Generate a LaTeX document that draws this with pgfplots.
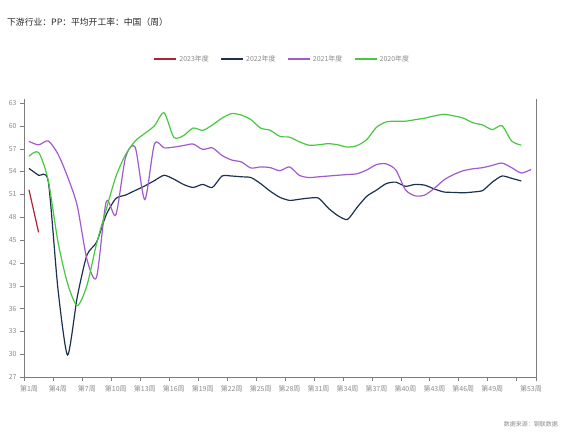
\documentclass[border=0pt]{standalone}
\usepackage{fontspec}
\setmainfont{Noto Sans CJK SC}
\usepackage{pgfplots}
\usepackage{pgfplotstable}
\pgfplotsset{compat=1.18}
\definecolor{c23}{RGB}{178,34,52}
\definecolor{c22}{RGB}{28,48,82}
\definecolor{c21}{RGB}{160,90,205}
\definecolor{c20}{RGB}{72,200,62}
\definecolor{axgray}{RGB}{125,125,125}
\definecolor{txtgray}{RGB}{140,140,140}

\pgfplotstableread{
w v
1 51.6
2 46.0
}\tA

\pgfplotstableread{
w v
1 54.4
2 53.5
3 52.7
4 38.6
5 29.9
6 37.5
7 43.0
8 44.7
9 48.3
10 50.45
11 50.9
12 51.5
13 52.1
14 52.8
15 53.5
16 53.0
17 52.3
18 51.9
19 52.3
20 51.9
21 53.4
22 53.4
23 53.3
24 53.2
25 52.4
26 51.4
27 50.6
28 50.2
29 50.35
30 50.5
31 50.5
32 49.2
33 48.2
34 47.7
35 49.3
36 50.75
37 51.55
38 52.4
39 52.6
40 52.05
41 52.3
42 52.2
43 51.7
44 51.3
45 51.25
46 51.2
47 51.3
48 51.5
49 52.6
50 53.4
51 53.1
52 52.75
}\tB

\pgfplotstableread{
w v
1 57.95
2 57.5
3 58.0
4 56.3
5 53.3
6 49.5
7 42.5
8 40.1
9 50.0
10 48.3
11 55.8
12 57.2
13 50.3
14 57.6
15 57.1
16 57.2
17 57.4
18 57.6
19 56.9
20 57.1
21 56.1
22 55.5
23 55.25
24 54.45
25 54.6
26 54.5
27 54.1
28 54.6
29 53.5
30 53.2
31 53.3
32 53.4
33 53.5
34 53.6
35 53.7
36 54.2
37 54.9
38 55.0
39 54.2
40 51.6
41 50.8
42 50.9
43 51.8
44 52.9
45 53.6
46 54.1
47 54.35
48 54.5
49 54.8
50 55.1
51 54.5
52 53.8
53 54.25
}\tC

\pgfplotstableread{
w v
1 56.0
2 56.5
3 52.8
4 44.8
5 39.3
6 36.4
7 39.0
8 44.5
9 49.0
10 53.3
11 56.2
12 58.0
13 59.0
14 60.0
15 61.7
16 58.5
17 58.7
18 59.7
19 59.4
20 60.1
21 61.0
22 61.6
23 61.4
24 60.8
25 59.7
26 59.4
27 58.6
28 58.5
29 57.9
30 57.45
31 57.5
32 57.65
33 57.5
34 57.2
35 57.4
36 58.2
37 59.8
38 60.5
39 60.6
40 60.6
41 60.8
42 61.0
43 61.3
44 61.5
45 61.3
46 61.0
47 60.4
48 60.1
49 59.5
50 60.0
51 58.0
52 57.45
}\tD

\begin{document}
\begin{tikzpicture}[x=1pt,y=1pt]
\path[use as bounding box] (0,0) rectangle (565,435);
\node[anchor=west, inner sep=0pt, font=\fontsize{8.8}{10}\selectfont, text=black!85] at (7,413) {下游行业：PP：平均开工率：中国（周）};
\node[anchor=east, inner sep=0pt, font=\fontsize{6}{7}\selectfont, text=txtgray] at (558,11) {数据来源：钢联数据};
\begin{axis}[
  at={(25,76)}, anchor=south west,
  scale only axis, width=512pt, height=278pt,
  xmin=0.5, xmax=53.54, ymin=27, ymax=63.5,
  axis x line=bottom, axis y line=left,
  axis line style={-, draw=axgray},
  tick align=outside,
  ytick={27,30,...,63},
  xtick={1,4,...,49,53},
  xticklabels={第1周,第4周,第7周,第10周,第13周,第16周,第19周,第22周,第25周,第28周,第31周,第34周,第37周,第40周,第43周,第46周,第49周,第53周},
  minor xtick={0.5,3.5,...,51.5,53.54},
  major x tick style={draw=none},
  minor x tick style={draw=axgray},
  minor tick length=4pt,
  major tick length=4pt,
  ytick style={draw=axgray},
  /pgf/number format/assume math mode=true,
  tick label style={font=\fontsize{7}{8}\selectfont, text=txtgray},
  xticklabel style={yshift=-1pt},
  legend style={at={(0.504,1.144)}, anchor=center, draw=none, fill=none,
    legend columns=4, font=\fontsize{7}{8}\selectfont, text=txtgray,
    /tikz/every even column/.append style={column sep=9pt}},
  legend image code/.code={\draw[#1, line width=2.2pt] (0pt,0pt) -- (22pt,0pt);},
  clip=false,
]
\addplot[c23, line width=1.2pt, smooth] table[x=w,y=v] {\tA};
\addlegendentry{2023年度}
\addplot[c22, line width=1.2pt, smooth, tension=0.4] table[x=w,y=v] {\tB};
\addlegendentry{2022年度}
\addplot[c21, line width=1.2pt, smooth, tension=0.45] table[x=w,y=v] {\tC};
\addlegendentry{2021年度}
\addplot[c20, line width=1.2pt, smooth, tension=0.45] table[x=w,y=v] {\tD};
\addlegendentry{2020年度}
\draw[axgray] (rel axis cs:1,0) -- (rel axis cs:1,1);
\end{axis}
\end{tikzpicture}
\end{document}
